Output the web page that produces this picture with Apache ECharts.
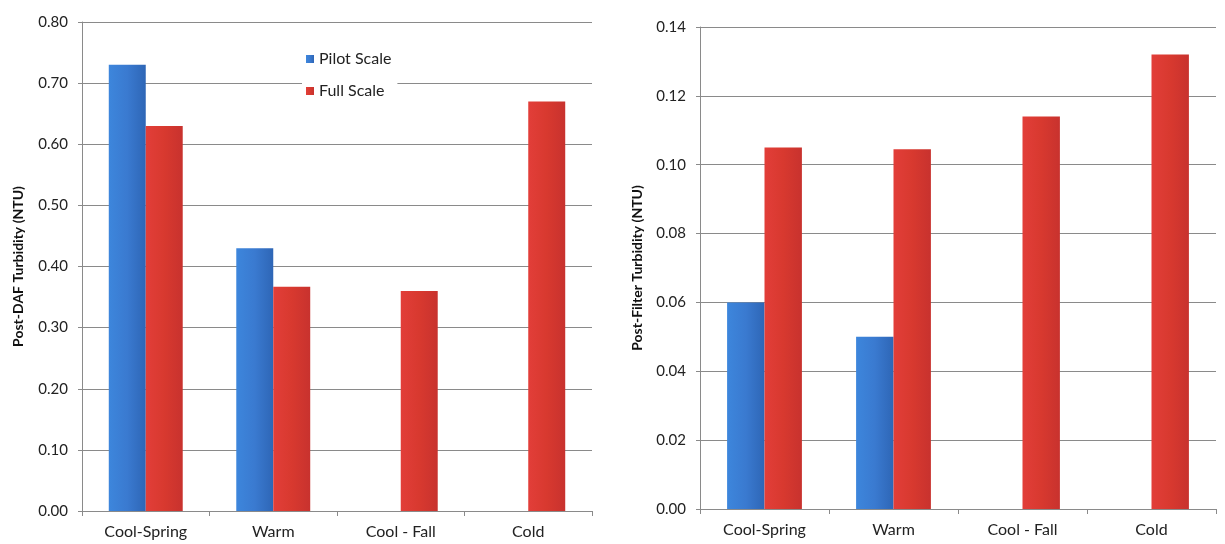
<!DOCTYPE html>
<html><head><meta charset="utf-8">
<script src="https://cdn.jsdelivr.net/npm/echarts@6/dist/echarts.min.js"></script>
<style>html,body{margin:0;padding:0;background:#fff}#c{width:1225px;height:544px}</style>
</head><body><div id="c"></div>
<script>
const categories = ['Cool-Spring', 'Warm', 'Cool - Fall', 'Cold'];
const dafPilot = [0.73, 0.43, null, null];
const dafFull = [0.63, 0.367, 0.36, 0.67];
const filterPilot = [0.06, 0.05, null, null];
const filterFull = [0.105, 0.1045, 0.114, 0.132];
const seriesNames = ['Pilot Scale', 'Full Scale'];

const FONT = 'Lato, "Open Sans", sans-serif';
const blue = {type:'linear',x:0,y:0,x2:1,y2:0,colorStops:[{offset:0,color:'#3d86dc'},{offset:0.5,color:'#3a7ad0'},{offset:1,color:'#2e66b6'}]};
const red = {type:'linear',x:0,y:0,x2:1,y2:0,colorStops:[{offset:0,color:'#e23e39'},{offset:0.5,color:'#d8392f'},{offset:1,color:'#c8322e'}]};

function xAx(gi){return {type:'category',gridIndex:gi,data:categories,
  axisLine:{lineStyle:{color:'#8a8a8a'}},axisTick:{show:true,length:5,lineStyle:{color:'#8a8a8a'}},
  axisLabel:{color:'#222',fontSize:16,fontFamily:FONT,margin:13}};}
function yAx(gi,max,interval,name,gap){return {type:'value',gridIndex:gi,min:0,max:max,interval:interval,
  name:name,nameLocation:'middle',nameGap:gap,nameTextStyle:{color:'#111',fontSize:14,fontWeight:'bold',fontFamily:FONT},
  axisLine:{show:true,lineStyle:{color:'#8a8a8a'}},axisTick:{show:true,length:4,lineStyle:{color:'#8a8a8a'}},
  axisLabel:{color:'#222',fontSize:15,fontFamily:FONT,margin:14,formatter:v=>v.toFixed(2)},
  splitLine:{lineStyle:{color:'#8a8a8a',width:1}}};}
function bar(name,data,gi,color){return {name:name,type:'bar',xAxisIndex:gi,yAxisIndex:gi,data:data,
  barGap:'0%',barCategoryGap:'42%',itemStyle:{color:color},emphasis:{disabled:true}};}

const chart = echarts.init(document.getElementById('c'),null,{renderer:'canvas'});
chart.setOption({
  animation:false,
  textStyle:{fontFamily:FONT},
  grid:[{left:82,right:633,top:22,bottom:33},{left:700,right:9,top:27,bottom:35}],
  legend:{data:seriesNames,orient:'vertical',left:302,top:49,itemWidth:8,itemHeight:8,itemGap:16,
    icon:'rect',backgroundColor:'#fff',padding:[2,6,2,4],
    textStyle:{color:'#222',fontSize:16,fontFamily:FONT}},
  xAxis:[xAx(0),xAx(1)],
  yAxis:[yAx(0,0.8,0.1,'Post-DAF Turbidity (NTU)',57),yAx(1,0.14,0.02,'Post-Filter Turbidity (NTU)',56)],
  series:[bar(seriesNames[0],dafPilot,0,blue),bar(seriesNames[1],dafFull,0,red),
          bar(seriesNames[0],filterPilot,1,blue),bar(seriesNames[1],filterFull,1,red)]
});
</script></body></html>
